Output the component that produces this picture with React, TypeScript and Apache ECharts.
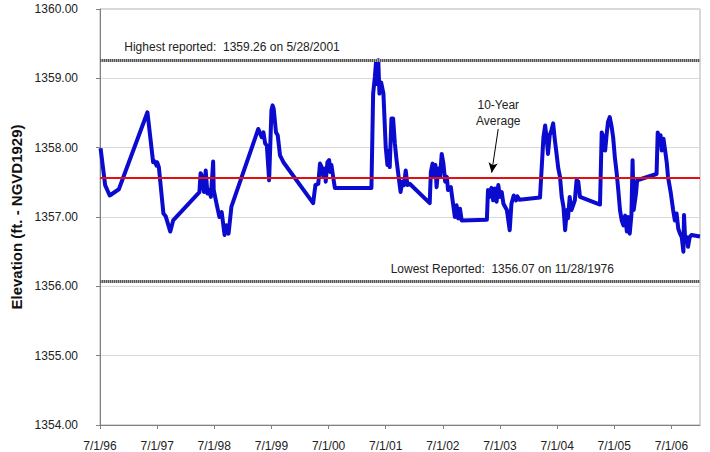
import React, { useEffect, useRef } from "react";
import * as echarts from "echarts";

// Decimal years of each reading
const decYears: number[] = [
  1996.51, 1996.59, 1996.67, 1996.83, 1997.33, 1997.43, 1997.46, 1997.49, 1997.5, 1997.53,
  1997.61, 1997.65, 1997.73, 1997.78, 1998.24, 1998.26, 1998.27, 1998.32, 1998.35, 1998.38,
  1998.41, 1998.44, 1998.48, 1998.49, 1998.54, 1998.59, 1998.63, 1998.68, 1998.71, 1998.75,
  1998.8, 1999.27, 1999.33, 1999.36, 1999.39, 1999.42, 1999.46, 1999.5, 1999.52, 1999.54,
  1999.58, 1999.61, 1999.65, 1999.71, 2000.23, 2000.27, 2000.32, 2000.35, 2000.38, 2000.41,
  2000.44, 2000.45, 2000.48, 2000.51, 2000.53, 2000.55, 2000.58, 2000.61, 2001.25, 2001.28,
  2001.31, 2001.33, 2001.35, 2001.37, 2001.39, 2001.42, 2001.46, 2001.5, 2001.53, 2001.56,
  2001.57, 2001.6, 2001.63, 2001.66, 2001.69, 2001.73, 2001.76, 2001.79, 2001.82, 2001.85,
  2001.88, 2001.92, 2002.27, 2002.29, 2002.32, 2002.34, 2002.37, 2002.39, 2002.42, 2002.45,
  2002.48, 2002.51, 2002.54, 2002.57, 2002.59, 2002.64, 2002.67, 2002.71, 2002.74, 2002.77,
  2002.8, 2002.83, 2003.27, 2003.29, 2003.32, 2003.35, 2003.38, 2003.41, 2003.44, 2003.47,
  2003.5, 2003.53, 2003.56, 2003.62, 2003.67, 2003.7, 2003.74, 2003.78, 2003.8, 2003.84,
  2004.2, 2004.26, 2004.29, 2004.32, 2004.34, 2004.37, 2004.4, 2004.43, 2004.46, 2004.49,
  2004.52, 2004.55, 2004.58, 2004.61, 2004.64, 2004.67, 2004.69, 2004.72, 2004.75, 2004.78,
  2004.81, 2004.84, 2004.87, 2004.9, 2005.25, 2005.28, 2005.31, 2005.34, 2005.37, 2005.39,
  2005.42, 2005.45, 2005.48, 2005.51, 2005.54, 2005.57, 2005.6, 2005.63, 2005.66, 2005.69,
  2005.72, 2005.74, 2005.77, 2005.8, 2005.82, 2005.84, 2005.88, 2005.9, 2006.24, 2006.26,
  2006.29, 2006.31, 2006.33, 2006.36, 2006.39, 2006.42, 2006.44, 2006.49, 2006.53, 2006.56,
  2006.59, 2006.62, 2006.65, 2006.68, 2006.71, 2006.72, 2006.74, 2006.77, 2006.79, 2006.82,
  2006.85, 2007.0,
];

// Lake elevation (ft, NGVD1929)
const elevations: number[] = [
  1357.99, 1357.46, 1357.31, 1357.4, 1358.51, 1357.79, 1357.8, 1357.74, 1357.79, 1357.72,
  1357.05, 1357.01, 1356.79, 1356.95, 1357.36, 1357.63, 1357.62, 1357.36, 1357.67, 1357.34,
  1357.39, 1357.29, 1357.8, 1357.39, 1357.19, 1357.0, 1357.07, 1356.74, 1356.88, 1356.76,
  1357.15, 1358.27, 1358.15, 1358.22, 1358.06, 1358.03, 1357.53, 1358.54, 1358.61, 1358.56,
  1358.22, 1358.18, 1357.89, 1357.79, 1357.2, 1357.46, 1357.48, 1357.77, 1357.72, 1357.58,
  1357.7, 1357.51, 1357.79, 1357.82, 1357.65, 1357.75, 1357.58, 1357.42, 1357.42, 1358.78,
  1359.02, 1359.23, 1358.92, 1359.26, 1358.78, 1358.94, 1358.78, 1358.01, 1357.75, 1357.96,
  1357.72, 1358.42, 1358.42, 1358.06, 1357.82, 1357.55, 1357.36, 1357.51, 1357.46, 1357.67,
  1357.46, 1357.48, 1357.2, 1357.65, 1357.77, 1357.58, 1357.75, 1357.43, 1357.7, 1357.58,
  1357.91, 1357.77, 1357.51, 1357.58, 1357.39, 1357.43, 1357.24, 1357.0, 1357.17, 1356.98,
  1357.12, 1356.95, 1356.96, 1357.39, 1357.29, 1357.42, 1357.24, 1357.41, 1357.22, 1357.46,
  1357.29, 1357.36, 1357.19, 1357.1, 1356.81, 1357.19, 1357.31, 1357.24, 1357.3, 1357.25,
  1357.28, 1358.15, 1358.32, 1358.11, 1357.91, 1358.18, 1358.25, 1358.35, 1358.11, 1357.91,
  1357.7, 1357.58, 1357.29, 1357.15, 1356.81, 1357.1, 1356.98, 1357.29, 1357.1, 1357.17,
  1357.24, 1357.53, 1357.51, 1357.29, 1357.18, 1358.22, 1358.15, 1357.96, 1358.22, 1358.37,
  1358.44, 1358.32, 1358.15, 1357.86, 1357.65, 1357.39, 1357.1, 1356.95, 1356.88, 1357.02,
  1356.79, 1357.0, 1356.76, 1357.03, 1357.82, 1357.1, 1357.34, 1357.53, 1357.62, 1358.22,
  1358.06, 1358.18, 1357.96, 1358.13, 1357.96, 1357.77, 1357.58, 1357.34, 1357.1, 1356.95,
  1357.05, 1356.83, 1356.76, 1356.71, 1356.5, 1357.03, 1356.67, 1356.71, 1356.57, 1356.71,
  1356.74, 1356.72,
];

const START_YEAR = 1996.5; // 7/1/96
const END_YEAR = 2007.0;
const yTicks = [1354, 1360];
const HIGHEST = 1359.26;
const LOWEST = 1356.07;
const AVERAGE = 1357.57;
const highestLabel = "Highest reported:  1359.26 on 5/28/2001";
const lowestLabel = "Lowest Reported:  1356.07 on 11/28/1976";
const averageLabel = "10-Year\nAverage";
// annotation anchor points in data space [decimal year, elevation]
const highestLabelAt = [1996.925, 1359.45];
const lowestLabelAt = [2001.587, 1356.25];
const averageLabelAt = [2003.47, 1358.5];
const arrowFrom = [2003.469, 1358.27];
const arrowTo = [2003.354, 1357.64];

const FONT = "'Liberation Sans', Arial, sans-serif";

export default function App() {
  const ref = useRef<HTMLDivElement>(null);
  useEffect(() => {
    if (!ref.current) return;
    const chart = echarts.init(ref.current, undefined, { renderer: "svg" });
    const X = (d: number) => d - START_YEAR;
    const data = decYears.map((d, i) => [X(d), elevations[i]]);
    const hatch = (v: number) => [
      {
        yAxis: v,
        lineStyle: { color: "#a8a8a8", width: 3, type: "solid" },
      },
      {
        yAxis: v,
        lineStyle: { color: "#555", width: 3, type: [1, 1] },
      },
    ];
    chart.setOption({
      animation: false,
      backgroundColor: "#fff",
      grid: {
        left: 100,
        right: 10,
        top: 9,
        bottom: 27,
        show: true,
        borderColor: "#b0b0b0",
        borderWidth: 1,
      },
      xAxis: {
        type: "value",
        min: 0,
        max: X(END_YEAR),
        interval: 1,
        axisLine: { show: true, lineStyle: { color: "#808080", width: 1 } },
        axisTick: { show: true, length: 4, lineStyle: { color: "#808080" } },
        splitLine: { show: false },
        axisLabel: {
          color: "#222",
          fontFamily: FONT,
          fontSize: 12,
          margin: 15,
          showMaxLabel: false,
          formatter: (v: number) => {
            if (Math.abs(v - Math.round(v)) > 1e-6) return "";
            const yy = (96 + Math.round(v)) % 100;
            return "7/1/" + String(yy).padStart(2, "0");
          },
        },
      },
      yAxis: {
        type: "value",
        min: yTicks[0],
        max: yTicks[1],
        interval: 1,
        name: "Elevation (ft. - NGVD1929)",
        nameLocation: "middle",
        nameGap: 72,
        nameTextStyle: {
          fontFamily: FONT,
          fontWeight: "bold",
          fontSize: 15,
          color: "#111",
        },
        axisLine: { show: true, lineStyle: { color: "#808080", width: 1 } },
        axisTick: { show: true, length: 4, lineStyle: { color: "#808080" } },
        splitLine: { show: true, lineStyle: { color: "#dadada", width: 1 } },
        axisLabel: {
          color: "#222",
          fontFamily: FONT,
          fontSize: 12,
          margin: 22,
          formatter: (v: number) => v.toFixed(2),
        },
      },
      series: [
        {
          type: "line",
          data,
          showSymbol: false,
          symbol: "none",
          lineStyle: { color: "#0b0bd0", width: 4, join: "round" },
          z: 3,
          markLine: {
            silent: true,
            symbol: ["none", "none"],
            label: { show: false },
            data: [
              ...hatch(HIGHEST),
              ...hatch(LOWEST),
              { yAxis: AVERAGE, lineStyle: { color: "#e41010", width: 2, type: "solid" } },
              [
                {
                  coord: [X(arrowFrom[0]), arrowFrom[1]],
                  symbol: "none",
                  lineStyle: { color: "#000", width: 1, type: "solid" },
                },
                { coord: [X(arrowTo[0]), arrowTo[1]], symbol: "arrow", symbolSize: [7, 10] },
              ],
            ],
          },
          markPoint: {
            silent: true,
            symbol: "circle",
            symbolSize: 0,
            data: [
              {
                coord: [X(highestLabelAt[0]), highestLabelAt[1]],
                label: {
                  show: true,
                  position: "right",
                  distance: 0,
                  formatter: highestLabel,
                  color: "#222",
                  fontFamily: FONT,
                  fontSize: 12,
                },
              },
              {
                coord: [X(lowestLabelAt[0]), lowestLabelAt[1]],
                label: {
                  show: true,
                  position: "right",
                  distance: 0,
                  formatter: lowestLabel,
                  color: "#222",
                  fontFamily: FONT,
                  fontSize: 12,
                },
              },
              {
                coord: [X(averageLabelAt[0]), averageLabelAt[1]],
                label: {
                  show: true,
                  position: "inside",
                  align: "center",
                  verticalAlign: "middle",
                  formatter: averageLabel,
                  color: "#222",
                  fontFamily: FONT,
                  fontSize: 12,
                  lineHeight: 16,
                },
              },
            ],
          },
        },
      ],
    });
    return () => chart.dispose();
  }, []);
  return (
    <div
      ref={ref}
      style={{ position: "fixed", left: 0, top: 0, width: 710, height: 452 }}
    />
  );
}
